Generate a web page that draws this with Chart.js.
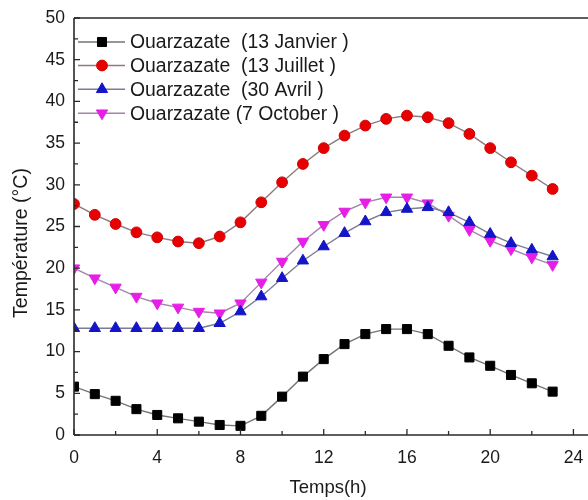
<!DOCTYPE html>
<html>
<head>
<meta charset="utf-8">
<script src="https://cdn.jsdelivr.net/npm/chart.js@4/dist/chart.umd.min.js"></script>
<style>
  html, body { margin: 0; padding: 0; background: #fff; }
  #wrap { width: 588px; height: 500px; position: relative; }
</style>
</head>
<body>
<div id="wrap"><canvas id="c" width="588" height="500"></canvas></div>
<script>
// Hourly air temperature at Ouarzazate for four typical days
const hours = [0,1,2,3,4,5,6,7,8,9,10,11,12,13,14,15,16,17,18,19,20,21,22,23];
const janvier = [5.8,4.9,4.1,3.1,2.4,2.0,1.6,1.2,1.1,2.3,4.6,7.0,9.1,10.9,12.1,12.7,12.7,12.1,10.7,9.3,8.3,7.2,6.2,5.2];
const juillet = [27.7,26.4,25.3,24.3,23.7,23.2,23.0,23.8,25.5,27.9,30.3,32.5,34.4,35.9,37.1,37.9,38.3,38.1,37.4,36.1,34.4,32.7,31.1,29.5];
const avril = [12.8,12.8,12.8,12.8,12.8,12.8,12.8,13.4,14.8,16.6,18.8,20.9,22.6,24.2,25.6,26.7,27.1,27.3,26.7,25.5,24.1,23.0,22.2,21.4];
const octobre = [20.0,18.8,17.7,16.6,15.8,15.3,14.8,14.6,15.8,18.3,20.8,23.2,25.2,26.8,27.9,28.5,28.5,27.8,26.3,24.6,23.3,22.3,21.3,20.4];
const seriesLabels = [
  'Ouarzazate  (13 Janvier )',
  'Ouarzazate  (13 Juillet )',
  'Ouarzazate  (30 Avril )',
  'Ouarzazate (7 October )'
];
const xTicks = [0,4,8,12,16,20,24];
const yTicks = [0,5,10,15,20,25,30,35,40,45,50];

const FONT = "'Liberation Sans', Arial, sans-serif";
const toXY = vals => hours.map((h, i) => ({ x: h, y: vals[i] }));

const datasets = [
  { label: seriesLabels[0], data: toXY(janvier), borderColor: '#747474',
    pointBackgroundColor: '#000', pointBorderColor: '#000',
    pointStyle: 'rect', pointRadius: 6.4, pointRotation: 0 },
  { label: seriesLabels[1], data: toXY(juillet), borderColor: '#8e7c7c',
    pointBackgroundColor: '#e80000', pointBorderColor: '#d00000',
    pointStyle: 'circle', pointRadius: 5.4, pointRotation: 0 },
  { label: seriesLabels[2], data: toXY(avril), borderColor: '#7c7c92',
    pointBackgroundColor: '#1414c8', pointBorderColor: '#1414c8',
    pointStyle: 'triangle', pointRadius: 6.5, pointRotation: 0 },
  { label: seriesLabels[3], data: toXY(octobre), borderColor: '#a484ac',
    pointBackgroundColor: '#e61ee6', pointBorderColor: '#e61ee6',
    pointStyle: 'triangle', pointRadius: 6.5, pointRotation: 180 }
];
datasets.forEach(d => {
  d.borderWidth = 1.4;
  d.pointBorderWidth = 1;
  d.tension = 0;
  d.fill = false;
  d.pointHoverRadius = d.pointRadius;
});

// Frame, inward tick marks, axis titles and the inset legend
const decorations = {
  id: 'decorations',
  afterDatasetsDraw(chart) {
    const ctx = chart.ctx;
    const a = chart.chartArea;
    const xs = chart.scales.x, ys = chart.scales.y;
    ctx.save();
    ctx.strokeStyle = '#2a2a2a';
    ctx.lineWidth = 1.6;
    ctx.beginPath();
    ctx.moveTo(a.left, a.top); ctx.lineTo(a.right, a.top);
    ctx.moveTo(a.left, a.top); ctx.lineTo(a.left, a.bottom);
    ctx.moveTo(a.left, a.bottom); ctx.lineTo(a.right, a.bottom);
    ctx.stroke();

    ctx.lineWidth = 1.3;
    ctx.beginPath();
    for (let v = 0; v <= 24; v += 2) {
      const px = xs.getPixelForValue(v);
      const len = (v % 4 === 0) ? 6 : 4;
      ctx.moveTo(px, a.bottom); ctx.lineTo(px, a.bottom - len);
    }
    for (let v = 0; v <= 50; v += 2.5) {
      const py = ys.getPixelForValue(v);
      const len = (v % 5 === 0) ? 6 : 4;
      ctx.moveTo(a.left, py); ctx.lineTo(a.left + len, py);
    }
    ctx.stroke();

    // axis titles
    ctx.fillStyle = '#1a1a1a';
    ctx.font = '18.5px ' + FONT;
    ctx.textAlign = 'center';
    ctx.textBaseline = 'middle';
    ctx.fillText('Temps(h)', 328, 488);
    ctx.save();
    ctx.translate(22, 243);
    ctx.rotate(-Math.PI / 2);
    ctx.font = '19.5px ' + FONT;
    ctx.fillText('Température (°C)', 0, 0);
    ctx.restore();

    // legend
    const rows = [42, 65.5, 89.3, 113.2];
    chart.data.datasets.forEach((d, i) => {
      const y = rows[i];
      ctx.strokeStyle = d.borderColor;
      ctx.lineWidth = 1.4;
      ctx.beginPath();
      ctx.moveTo(78, y); ctx.lineTo(125, y);
      ctx.stroke();
      ctx.fillStyle = d.pointBackgroundColor;
      ctx.strokeStyle = d.pointBorderColor;
      ctx.lineWidth = 1;
      Chart.helpers.drawPoint(ctx, {
        pointStyle: d.pointStyle, radius: d.pointRadius,
        rotation: d.pointRotation, borderWidth: 1
      }, 102, y);
      ctx.fillStyle = '#1a1a1a';
      ctx.font = '19.4px ' + FONT;
      ctx.textAlign = 'left';
      ctx.textBaseline = 'middle';
      ctx.fillText(d.label, 130, y + 1);
    });
    ctx.restore();
  }
};

new Chart(document.getElementById('c'), {
  type: 'line',
  data: { datasets },
  options: {
    responsive: false,
    animation: false,
    events: [],
    layout: { autoPadding: false, padding: { top: 18, right: 0, left: 0, bottom: 0 } },
    plugins: { legend: { display: false }, tooltip: { enabled: false } },
    scales: {
      x: {
        type: 'linear', min: 0, max: 24.7,
        afterBuildTicks: s => { s.ticks = xTicks.map(v => ({ value: v })); },
        afterFit: s => { s.height = 65; s.paddingLeft = 0; s.paddingRight = 0; },
        grid: { display: false, drawTicks: false },
        border: { display: false },
        ticks: { color: '#1a1a1a', padding: 13, maxRotation: 0,
                 font: { family: FONT, size: 17.5 } }
      },
      y: {
        type: 'linear', min: 0, max: 50,
        afterBuildTicks: s => { s.ticks = yTicks.map(v => ({ value: v })); },
        afterFit: s => { s.width = 74; s.paddingTop = 0; s.paddingBottom = 0; },
        grid: { display: false, drawTicks: false },
        border: { display: false },
        ticks: { color: '#1a1a1a', padding: 9,
                 font: { family: FONT, size: 17.5 } }
      }
    }
  },
  plugins: [decorations]
});
</script>
</body>
</html>
